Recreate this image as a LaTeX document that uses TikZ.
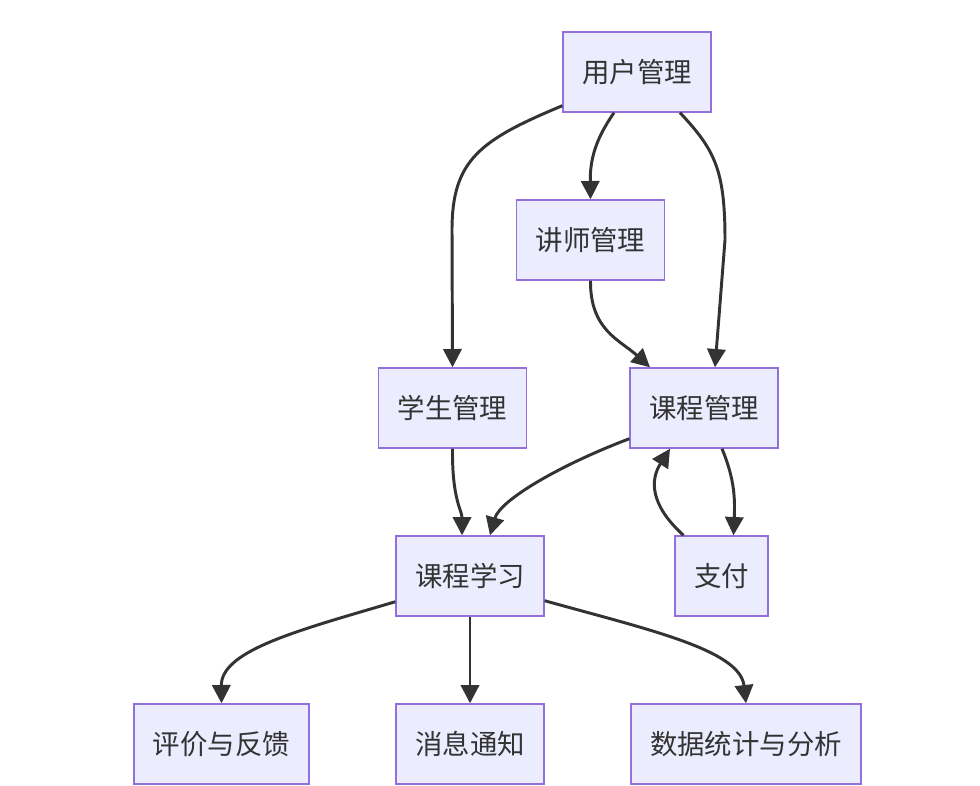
\documentclass[tikz,border=0pt]{standalone}
\usepackage{fontspec}
\setmainfont{Noto Sans CJK SC}
\usetikzlibrary{arrows.meta}
\definecolor{boxfill}{HTML}{ECECFF}
\definecolor{boxline}{HTML}{9370DB}
\definecolor{linegray}{HTML}{333333}
\definecolor{textgray}{HTML}{333333}
\begin{document}
\begin{tikzpicture}[
  x=0.025cm, y=-0.025cm,
  box/.style={draw=boxline, fill=boxfill, line width=1pt, minimum height=2cm, inner xsep=13.6pt, font=\fontsize{19.5}{23}\selectfont, text=textgray},
  arr/.style={-{Triangle[length=13pt, width=13pt]}, line width=2.1pt, draw=linegray},
]
\useasboundingbox (0,0) rectangle (980,785);

\node[box] (user)    at (637,72)    {用户管理};
\node[box] (teacher) at (590.5,240) {讲师管理};
\node[box] (student) at (452.5,408) {学生管理};
\node[box] (course)  at (704,408)   {课程管理};
\node[box] (learn)   at (470,576)   {课程学习};
\node[box] (pay)     at (721.5,576) {支付};
\node[box] (review)  at (221.5,744) {评价与反馈};
\node[box] (msg)     at (470,744)   {消息通知};
\node[box] (stat)    at (746,744)   {数据统计与分析};

\draw[arr] ([shift={(0,-7)}]user.south west) .. controls (480,140) and (452,160) .. (452,230) -- (student.north);
\draw[arr] ([shift={(-23,0)}]user.south) .. controls (595,140) and (590,160) .. (teacher.north);
\draw[arr] ([shift={(43,0)}]user.south) .. controls (715,150) and (725,170) .. (725,240) -- ([shift={(11,0)}]course.north);
\draw[arr] (teacher.south) .. controls (590,330) and (620,340) .. ([shift={(-54,0)}]course.north);
\draw[arr] (student.south) .. controls (452,500) and (462,510) .. ([shift={(-8,0)}]learn.north);
\draw[arr] ([shift={(0,-10)}]course.south west) .. controls (560,465) and (500,500) .. ([shift={(20,0)}]learn.north);
\draw[arr] ([shift={(18,0)}]course.south) .. controls (735,480) and (735,500) .. ([shift={(12,0)}]pay.north);
\draw[arr] ([shift={(-38,0)}]pay.north) .. controls (650,505) and (650,480) .. ([shift={(-34,0)}]course.south);
\draw[arr] ([shift={(0,-15)}]learn.south west) .. controls (300,630) and (221,650) .. (review.north);
\draw[arr] (learn.south) -- (msg.north);
\draw[arr] ([shift={(0,-16)}]learn.south east) .. controls (650,630) and (740,650) .. (stat.north);
\end{tikzpicture}
\end{document}
